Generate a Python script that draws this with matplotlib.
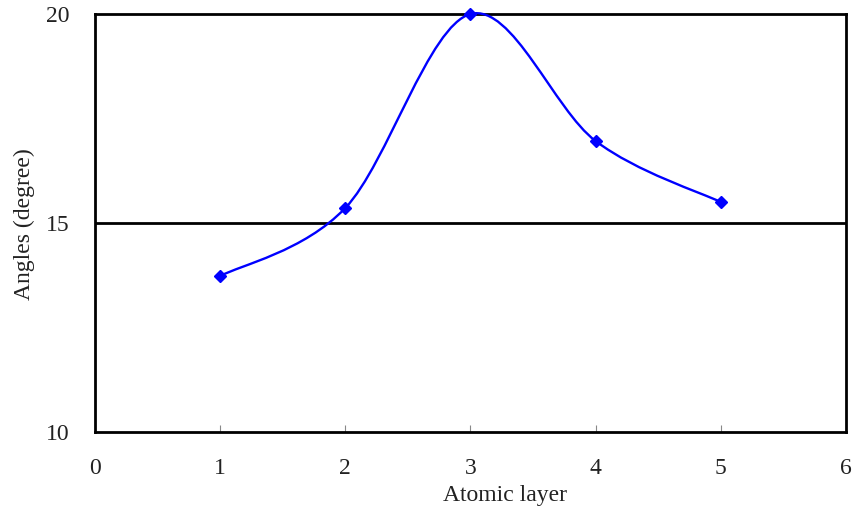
import matplotlib
matplotlib.use("Agg")
import matplotlib.pyplot as plt
from matplotlib.path import Path
from matplotlib.patches import PathPatch
import numpy as np

layers = [1, 2, 3, 4, 5]
angles = [13.73, 15.36, 20.0, 16.96, 15.50]
xticks = [0, 1, 2, 3, 4, 5, 6]
yticks = [10, 15, 20]

plt.rcParams['font.family'] = ['Liberation Serif', 'DejaVu Serif']

fig = plt.figure(figsize=(8.54, 5.12), dpi=100)
ax = fig.add_axes([95/854, 1-432/512, (846-95)/854, (432-14)/512])

# Excel-style smoothed line (Bezier through the data points)
pts = np.column_stack([layers, angles]).astype(float)
n = len(pts)
verts = [tuple(pts[0])]
codes = [Path.MOVETO]
for i in range(n - 1):
    p0 = pts[i - 1] if i > 0 else pts[i]
    p1 = pts[i]
    p2 = pts[i + 1]
    p3 = pts[i + 2] if i + 2 < n else pts[i + 1]
    c1 = p1 + (p2 - p0) / 6.0
    c2 = p2 - (p3 - p1) / 6.0
    verts += [tuple(c1), tuple(c2), tuple(p2)]
    codes += [Path.CURVE4] * 3
patch = PathPatch(Path(verts, codes), facecolor='none', edgecolor='#0000FF', lw=1.7, zorder=3, clip_on=False)
ax.add_patch(patch)
ax.plot(layers, angles, linestyle='none', marker='D', markersize=6.5, color='#0000FF', zorder=4, clip_on=False)

ax.set_xlim(0, 6)
ax.set_ylim(10, 20)
ax.set_xticks(xticks)
ax.set_yticks(yticks)
ax.axhline(15, color='black', lw=2.0, zorder=2)

for s in ax.spines.values():
    s.set_linewidth(2.0)
    s.set_color('black')

txtc = '#222222'
ax.tick_params(axis='x', direction='in', length=5, width=0.8, color='#888888', pad=19, labelsize=17, labelcolor=txtc)
ax.tick_params(axis='y', length=0, pad=18, labelsize=17, labelcolor=txtc)

fig.text(505/854, 1-496/512, 'Atomic layer', ha='center', va='center', fontsize=17, color=txtc)
fig.text(24/854, 1-224/512, 'Angles (degree)', ha='center', va='center', rotation=90, fontsize=17, color=txtc)

fig.savefig('out.png', dpi=100)
